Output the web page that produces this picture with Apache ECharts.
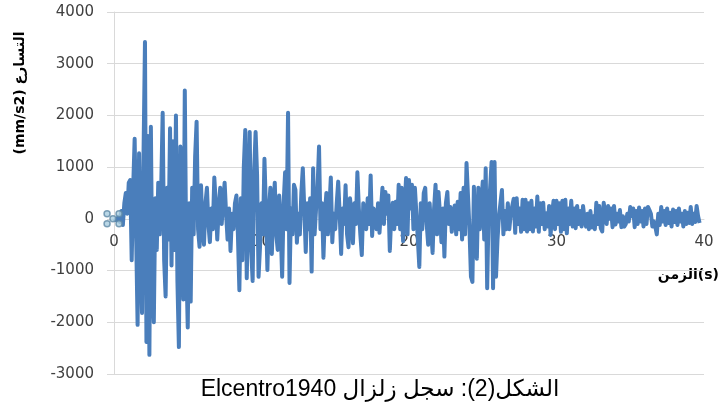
<!DOCTYPE html>
<html>
<head>
<meta charset="utf-8">
<script src="https://cdn.jsdelivr.net/npm/echarts@6/dist/echarts.min.js"></script>
<style>html,body{margin:0;padding:0;background:#fff;}#c{width:721px;height:413px;}</style>
</head>
<body>
<div id="c"></div>
<script>
// Time step of the record (s)
const DT = 0.1;
// Acceleration (mm/s2), t = 0.0 ... 39.8 s
const accel0_10 = [
  0,20,-30,40,-60,150,-120,300,500,100,
  700,750,-800,600,1550,-300,-2050,1270,-600,-1820,
  1200,3420,-2380,1600,-2630,1780,-1300,-2000,400,-600,
  700,-300,600,2050,-800,-1500,600,-400,1750,-900,
  1500,-600,2000,-1200,-2480,1400,200,-1560,2480,-800,
  -2100,300,-1600,600,-300,1200,1880,-200,-540,650,
  -200,-500,300,600,-100,-450,200,-200,800,300,
  -400,200,600,-100,300,700,100,-400,200,-620,
  100,-200,300,450,-300,-1380,400,-800,1000,1720,
  -1150,400,1680,-600,-1200,900,1680,850,-1120,-540
];
const accel10_20 = [
  300,-300,1160,200,-990,100,600,-680,200,700,
  -300,-600,450,-200,-1120,300,900,-200,2050,-1240,
  200,-300,660,560,-460,100,-300,500,980,200,
  -640,300,-200,400,-1020,980,-300,200,600,1400,
  -200,300,-750,100,500,-300,200,800,-450,100,
  -200,300,720,100,-680,200,-100,650,-300,-550,
  400,100,-470,300,-100,900,200,-300,-700,300,
  100,-200,400,-100,840,-330,200,100,-200,300,
  -270,200,600,-100,520,100,450,-620,100,310,
  -200,330,-100,660,-200,600,-430,200,790,-300
];
const accel20_30 = [
  750,200,660,-200,600,100,-400,-930,300,-200,
  500,600,-100,-500,300,-200,-660,200,660,-300,
  520,100,-450,200,-730,300,520,-100,230,-250,
  100,260,-300,330,-200,500,-400,600,-300,1080,
  1100,-200,-1120,-1220,620,-300,-770,600,-200,300,
  720,-400,980,-1340,200,600,1100,-1340,1100,-1120,
  -400,50,300,560,-300,150,-200,300,-200,100,
  250,390,-270,400,-100,200,-250,370,-200,370,
  -245,300,-200,350,-245,200,-150,430,-250,300,
  -100,310,-200,110,-150,250,-310,100,350,-200
];
const accel30_40 = [
  350,-100,300,-250,350,-200,370,-280,200,-100,
  350,-150,200,-180,250,-100,150,-150,250,0,
  -150,100,-200,150,-165,50,-200,310,-100,250,
  -180,-245,310,100,-100,250,0,200,-160,250,
  -110,100,-50,170,-160,50,-150,-100,100,-50,
  230,50,200,-160,150,-100,220,-50,150,-150,
  200,-100,230,170,100,-150,-50,-150,-300,100,
  -120,230,-50,150,-120,200,-80,120,-150,180,
  -60,150,-120,200,-50,100,-150,150,-100,120,
  -80,230,-100,100,-60,250,50,-80
];
// Small marker cluster drawn at the origin
const markerPts = [[-0.47,97],[-0.47,-97],[0.34,97],[0.34,-97],[-0.07,0]];
// Axis ticks
const yMin = -3000, yMax = 4000, yStep = 1000;
const xMin = 0, xMax = 40, xStep = 10;
// Texts
const yTitle = '(mm/s2) التسارع';
const xTitle = 'الزمن(s)';
const caption = '\u202Bالشكل(2): سجل زلزال Elcentro1940\u202C';

const accel = [].concat(accel0_10, accel10_20, accel20_30, accel30_40);
const lineData = accel.map((v, i) => [Math.round(i * DT * 10) / 10, v]);

const GRID_TOP = 12, GRID_BOTTOM = 39, H = 413;
const plotH = H - GRID_TOP - GRID_BOTTOM;
const zeroOffset = -plotH * (0 - yMin) / (yMax - yMin);

const chart = echarts.init(document.getElementById('c'), null, {renderer: 'canvas'});
chart.setOption({
  animation: false,
  backgroundColor: '#ffffff',
  grid: {left: 114, right: 17, top: GRID_TOP, bottom: GRID_BOTTOM},
  xAxis: {
    type: 'value', min: xMin, max: xMax, interval: xStep,
    offset: zeroOffset,
    axisLine: {show: true, onZero: false, lineStyle: {color: '#d9d9d9', width: 1}},
    axisTick: {show: false},
    splitLine: {show: false},
    axisLabel: {color: '#404040', fontFamily: 'DejaVu Sans', fontSize: 15, margin: 16,
      formatter: v => String(v)}
  },
  yAxis: {
    type: 'value', min: yMin, max: yMax, interval: yStep,
    axisLine: {show: true, lineStyle: {color: '#d9d9d9', width: 1}},
    axisTick: {show: true, length: 7, lineStyle: {color: '#d9d9d9'}},
    splitLine: {show: true, lineStyle: {color: '#d9d9d9', width: 1}},
    axisLabel: {color: '#404040', fontFamily: 'DejaVu Sans', fontSize: 15, margin: 20,
      formatter: v => String(v)}
  },
  series: [
    {
      type: 'line', data: lineData, showSymbol: false, symbol: 'none',
      lineStyle: {color: '#4a7ebb', width: 4, join: 'round'},
      z: 2
    },
    {
      type: 'scatter', data: markerPts, symbol: 'circle', symbolSize: 6, clip: false,
      itemStyle: {color: '#a9cde0', borderColor: '#5f8aa6', borderWidth: 1.5},
      z: 3
    }
  ],
  graphic: [
    {
      type: 'text', x: 20, y: 93, rotation: Math.PI / 2,
      style: {text: yTitle, fill: '#000', font: 'bold 14px "DejaVu Sans"', align: 'center', verticalAlign: 'middle'}
    },
    {
      type: 'text', x: 719, y: 275,
      style: {text: xTitle, fill: '#000', font: 'bold 14px "DejaVu Sans"', align: 'right', verticalAlign: 'middle'}
    },
    {
      type: 'text', x: 380, y: 390,
      style: {text: caption, fill: '#000', font: '23px "Liberation Sans", "DejaVu Sans"', align: 'center', verticalAlign: 'middle'}
    }
  ]
});
</script>
</body>
</html>
